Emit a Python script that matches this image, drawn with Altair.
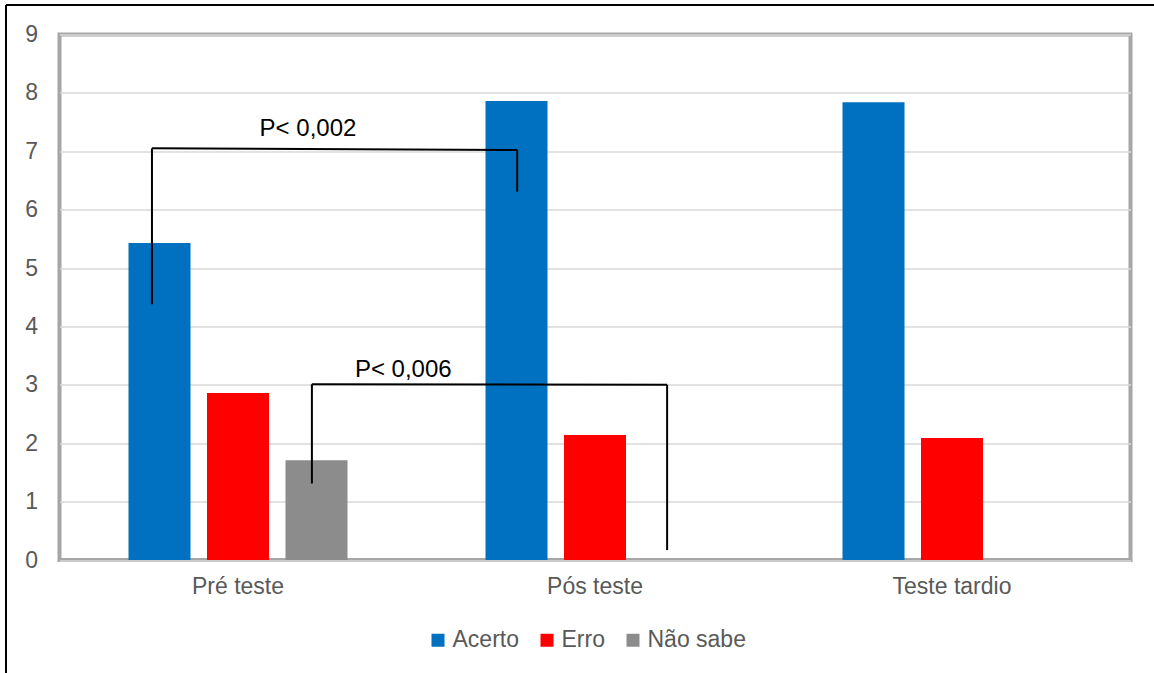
import altair as alt
import pandas as pd

# ---- data ----
groups = ["Pré teste", "Pós teste", "Teste tardio"]
series_names = ["Acerto", "Erro", "Não sabe"]
acerto = [5.43, 7.86, 7.84]
erro = [2.86, 2.14, 2.09]
nao_sabe = [1.71, None, None]
colors = ["#0070C0", "#FF0000", "#8C8C8C"]

# significance brackets (x in group units: 0..3 across the plot, y in data units)
seg_x = [0.259, 0.259, 1.282, 0.707, 0.707, 1.702]
seg_x2 = [0.259, 1.282, 1.282, 0.707, 1.702, 1.702]
seg_y = [4.38, 7.05, 7.02, 1.31, 3.01, 3.00]
seg_y2 = [7.05, 7.02, 6.31, 3.01, 3.00, 0.17]

label_text = ["P< 0,002", "P< 0,006"]
label_x = [0.696, 0.963]
label_y = [7.26, 3.14]

FONT = "Liberation Sans"
GREY_TXT = "#595959"

rows = []
for s, vals in zip(series_names, [acerto, erro, nao_sabe]):
    for g, v in zip(groups, vals):
        if v is not None:
            rows.append({"grupo": g, "serie": s, "valor": v})
df = pd.DataFrame(rows)

seg_df = pd.DataFrame({"x": seg_x, "x2": seg_x2, "y": seg_y, "y2": seg_y2})
lab_df = pd.DataFrame({"x": label_x, "y": label_y, "label": label_text})

yscale = alt.Scale(domain=[0, 9], nice=False)
qx = alt.Scale(domain=[0, 3], nice=False, zero=False)

bars = alt.Chart(df).mark_bar().encode(
    x=alt.X("grupo:N", sort=groups, title=None,
            scale=alt.Scale(paddingInner=0, paddingOuter=0),
            axis=alt.Axis(labelAngle=0, ticks=False, domain=False, labelPadding=15,
                          labelFontSize=23, labelColor=GREY_TXT, labelFont=FONT)),
    xOffset=alt.XOffset("serie:N", sort=series_names,
                        scale=alt.Scale(domain=series_names, paddingInner=0.21, paddingOuter=0.879)),
    y=alt.Y("valor:Q", scale=yscale, title=None,
            axis=alt.Axis(values=list(range(10)), format="d", ticks=False, domain=False,
                          labelPadding=22,
                          labelFontSize=23, labelColor=GREY_TXT, labelFont=FONT,
                          grid=True, gridColor="#D9D9D9", gridWidth=1.5)),
    color=alt.Color("serie:N", scale=alt.Scale(domain=series_names, range=colors),
                    legend=alt.Legend(title=None, orient="none", legendX=367, legendY=594,
                                      direction="horizontal", symbolType="square",
                                      symbolSize=169, symbolStrokeWidth=0,
                                      labelFontSize=23, labelColor=GREY_TXT, labelFont=FONT,
                                      columnPadding=16, labelOffset=3, padding=0)),
)

rules = alt.Chart(seg_df).mark_rule(color="black", strokeWidth=2).encode(
    x=alt.X("x:Q", scale=qx, axis=None),
    x2="x2:Q",
    y=alt.Y("y:Q", scale=yscale),
    y2="y2:Q",
)

texts = alt.Chart(lab_df).mark_text(fontSize=24, font=FONT, color="black",
                                    align="center", baseline="alphabetic").encode(
    x=alt.X("x:Q", scale=qx, axis=None),
    y=alt.Y("y:Q", scale=yscale),
    text="label:N",
)

# outer black frame of the figure (decorative)
frame_left = alt.Chart(pd.DataFrame({"a": [0]})).mark_rule(color="black", strokeWidth=2, clip=False).encode(
    x=alt.value(-53.5), y=alt.value(-29.5), y2=alt.value(640))
frame_top = alt.Chart(pd.DataFrame({"a": [0]})).mark_rule(color="black", strokeWidth=2, clip=False).encode(
    x=alt.value(-53.5), x2=alt.value(1096), y=alt.value(-29.5))

chart = alt.layer(bars, rules, texts, frame_left, frame_top).resolve_scale(
    x="independent"
).properties(
    width=1071, height=525.5,
    autosize=alt.AutoSizeParams(type="none"),
    padding={"left": 59.5, "top": 34.5, "right": 23.5, "bottom": 113},
    background="white",
).configure_view(
    stroke="#A6A6A6", strokeWidth=4
)

chart.save("out.html", embed_options={"renderer": "svg", "actions": False})
